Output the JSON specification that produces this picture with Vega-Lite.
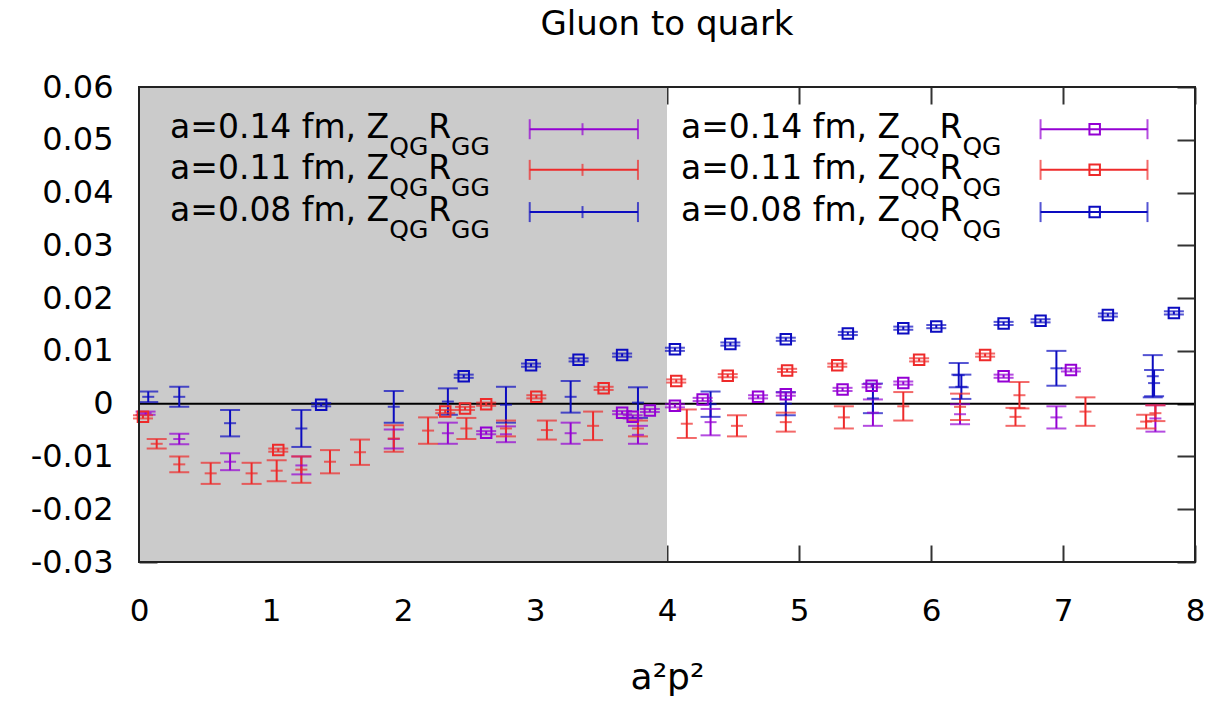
{
  "$schema": "https://vega.github.io/schema/vega-lite/v6.json",
  "width": 1056,
  "height": 475,
  "autosize": {"type": "none"},
  "padding": {"left": 139, "top": 87, "right": 20, "bottom": 141},
  "background": "white",
  "title": {"text": "Gluon to quark", "fontSize": 34, "fontWeight": "normal", "color": "#000", "baseline": "alphabetic", "offset": 2, "anchor": "middle"},
  "config": {"font": "DejaVu Sans", "view": {"stroke": null}},
  "datasets": {
    "pts": [
      {"s":"GG","a":"0.14","x":0.05,"y":-0.0018,"lo":-0.0021,"hi":-0.0015},
      {"s":"GG","a":"0.14","x":0.305,"y":-0.0067,"lo":-0.0077,"hi":-0.0057},
      {"s":"GG","a":"0.14","x":0.69,"y":-0.011,"lo":-0.0126,"hi":-0.0094},
      {"s":"GG","a":"0.14","x":1.23,"y":-0.0117,"lo":-0.0134,"hi":-0.01},
      {"s":"GG","a":"0.14","x":1.93,"y":-0.0067,"lo":-0.0085,"hi":-0.0049},
      {"s":"GG","a":"0.14","x":2.34,"y":-0.0056,"lo":-0.0076,"hi":-0.0036},
      {"s":"GG","a":"0.14","x":2.78,"y":-0.0058,"lo":-0.0073,"hi":-0.0043},
      {"s":"GG","a":"0.14","x":3.27,"y":-0.0056,"lo":-0.0076,"hi":-0.0036},
      {"s":"GG","a":"0.14","x":3.78,"y":-0.0059,"lo":-0.0076,"hi":-0.0042},
      {"s":"GG","a":"0.14","x":4.33,"y":-0.0035,"lo":-0.006,"hi":-0.001},
      {"s":"GG","a":"0.14","x":5.56,"y":-0.0017,"lo":-0.0042,"hi":0.0008},
      {"s":"GG","a":"0.14","x":6.22,"y":-0.002,"lo":-0.0039,"hi":-0.0001},
      {"s":"GG","a":"0.14","x":6.95,"y":-0.0026,"lo":-0.0047,"hi":-0.0005},
      {"s":"GG","a":"0.14","x":7.7,"y":-0.0028,"lo":-0.0053,"hi":-0.0003},
      {"s":"GG","a":"0.11","x":0.134,"y":-0.0076,"lo":-0.0085,"hi":-0.0067},
      {"s":"GG","a":"0.11","x":0.305,"y":-0.0115,"lo":-0.013,"hi":-0.01},
      {"s":"GG","a":"0.11","x":0.543,"y":-0.0132,"lo":-0.0152,"hi":-0.0112},
      {"s":"GG","a":"0.11","x":0.853,"y":-0.0132,"lo":-0.0152,"hi":-0.0112},
      {"s":"GG","a":"0.11","x":1.043,"y":-0.0127,"lo":-0.0147,"hi":-0.0107},
      {"s":"GG","a":"0.11","x":1.23,"y":-0.0125,"lo":-0.015,"hi":-0.01},
      {"s":"GG","a":"0.11","x":1.447,"y":-0.011,"lo":-0.0132,"hi":-0.0088},
      {"s":"GG","a":"0.11","x":1.674,"y":-0.0092,"lo":-0.0116,"hi":-0.0068},
      {"s":"GG","a":"0.11","x":1.93,"y":-0.0066,"lo":-0.0091,"hi":-0.0041},
      {"s":"GG","a":"0.11","x":2.19,"y":-0.0051,"lo":-0.0076,"hi":-0.0026},
      {"s":"GG","a":"0.11","x":2.48,"y":-0.0047,"lo":-0.0067,"hi":-0.0027},
      {"s":"GG","a":"0.11","x":2.78,"y":-0.0047,"lo":-0.0062,"hi":-0.0032},
      {"s":"GG","a":"0.11","x":3.09,"y":-0.005,"lo":-0.0068,"hi":-0.0032},
      {"s":"GG","a":"0.11","x":3.44,"y":-0.0042,"lo":-0.0069,"hi":-0.0015},
      {"s":"GG","a":"0.11","x":3.78,"y":-0.0047,"lo":-0.0062,"hi":-0.0032},
      {"s":"GG","a":"0.11","x":4.15,"y":-0.0038,"lo":-0.0065,"hi":-0.0011},
      {"s":"GG","a":"0.11","x":4.53,"y":-0.0042,"lo":-0.0062,"hi":-0.0022},
      {"s":"GG","a":"0.11","x":4.9,"y":-0.0035,"lo":-0.0053,"hi":-0.0017},
      {"s":"GG","a":"0.11","x":5.34,"y":-0.0026,"lo":-0.0047,"hi":-0.0005},
      {"s":"GG","a":"0.11","x":5.79,"y":-0.0005,"lo":-0.0032,"hi":0.0022},
      {"s":"GG","a":"0.11","x":6.22,"y":-0.0006,"lo":-0.0031,"hi":0.0019},
      {"s":"GG","a":"0.11","x":6.67,"y":0.0016,"lo":-0.0009,"hi":0.0041},
      {"s":"GG","a":"0.11","x":6.64,"y":-0.0025,"lo":-0.0042,"hi":-0.0008},
      {"s":"GG","a":"0.11","x":7.17,"y":-0.0015,"lo":-0.0042,"hi":0.0012},
      {"s":"GG","a":"0.11","x":7.63,"y":-0.0034,"lo":-0.0047,"hi":-0.0021},
      {"s":"GG","a":"0.11","x":7.7,"y":-0.0018,"lo":-0.0033,"hi":-0.0003},
      {"s":"GG","a":"0.08","x":0.07,"y":0.0013,"lo":0.0003,"hi":0.0023},
      {"s":"GG","a":"0.08","x":0.305,"y":0.0013,"lo":-0.0006,"hi":0.0032},
      {"s":"GG","a":"0.08","x":0.69,"y":-0.0037,"lo":-0.0062,"hi":-0.0012},
      {"s":"GG","a":"0.08","x":1.23,"y":-0.0047,"lo":-0.0082,"hi":-0.0012},
      {"s":"GG","a":"0.08","x":1.93,"y":-0.0006,"lo":-0.0036,"hi":0.0024},
      {"s":"GG","a":"0.08","x":2.34,"y":0.0004,"lo":-0.0021,"hi":0.0029},
      {"s":"GG","a":"0.08","x":2.78,"y":-0.0002,"lo":-0.0036,"hi":0.0032},
      {"s":"GG","a":"0.08","x":3.27,"y":0.0013,"lo":-0.0017,"hi":0.0043},
      {"s":"GG","a":"0.08","x":3.78,"y":0.0002,"lo":-0.0027,"hi":0.0031},
      {"s":"GG","a":"0.08","x":4.33,"y":-0.0001,"lo":-0.0025,"hi":0.0023},
      {"s":"GG","a":"0.08","x":4.9,"y":0.0,"lo":-0.0022,"hi":0.0022},
      {"s":"GG","a":"0.08","x":5.56,"y":0.001,"lo":-0.0018,"hi":0.0038},
      {"s":"GG","a":"0.08","x":6.21,"y":0.0054,"lo":0.0031,"hi":0.0077},
      {"s":"GG","a":"0.08","x":6.23,"y":0.0032,"lo":0.0009,"hi":0.0055},
      {"s":"GG","a":"0.08","x":6.95,"y":0.0067,"lo":0.0034,"hi":0.01},
      {"s":"GG","a":"0.08","x":7.68,"y":0.0052,"lo":0.0012,"hi":0.0092},
      {"s":"GG","a":"0.08","x":7.69,"y":0.0039,"lo":0.0014,"hi":0.0064},
      {"s":"QG","a":"0.14","x":2.63,"y":-0.0055,"lo":-0.0058,"hi":-0.0052},
      {"s":"QG","a":"0.14","x":3.66,"y":-0.0017,"lo":-0.002,"hi":-0.0014},
      {"s":"QG","a":"0.14","x":3.74,"y":-0.0025,"lo":-0.0028,"hi":-0.0022},
      {"s":"QG","a":"0.14","x":3.87,"y":-0.0013,"lo":-0.0016,"hi":-0.001},
      {"s":"QG","a":"0.14","x":4.06,"y":-0.0004,"lo":-0.0007,"hi":-0.0001},
      {"s":"QG","a":"0.14","x":4.27,"y":0.0008,"lo":0.0005,"hi":0.0011},
      {"s":"QG","a":"0.14","x":4.69,"y":0.0013,"lo":0.001,"hi":0.0016},
      {"s":"QG","a":"0.14","x":4.9,"y":0.0018,"lo":0.0015,"hi":0.0021},
      {"s":"QG","a":"0.14","x":5.33,"y":0.0027,"lo":0.0024,"hi":0.003},
      {"s":"QG","a":"0.14","x":5.55,"y":0.0034,"lo":0.0031,"hi":0.0037},
      {"s":"QG","a":"0.14","x":5.79,"y":0.0039,"lo":0.0036,"hi":0.0042},
      {"s":"QG","a":"0.14","x":6.55,"y":0.0052,"lo":0.0049,"hi":0.0055},
      {"s":"QG","a":"0.14","x":7.06,"y":0.0064,"lo":0.0061,"hi":0.0067},
      {"s":"QG","a":"0.11","x":0.03,"y":-0.0025,"lo":-0.0028,"hi":-0.0022},
      {"s":"QG","a":"0.11","x":1.055,"y":-0.0088,"lo":-0.0091,"hi":-0.0085},
      {"s":"QG","a":"0.11","x":2.32,"y":-0.0015,"lo":-0.0018,"hi":-0.0012},
      {"s":"QG","a":"0.11","x":2.47,"y":-0.0009,"lo":-0.0012,"hi":-0.0006},
      {"s":"QG","a":"0.11","x":2.63,"y":-0.0001,"lo":-0.0004,"hi":0.0002},
      {"s":"QG","a":"0.11","x":3.01,"y":0.0013,"lo":0.001,"hi":0.0016},
      {"s":"QG","a":"0.11","x":3.52,"y":0.0029,"lo":0.0026,"hi":0.0032},
      {"s":"QG","a":"0.11","x":4.07,"y":0.0043,"lo":0.004,"hi":0.0046},
      {"s":"QG","a":"0.11","x":4.46,"y":0.0053,"lo":0.005,"hi":0.0056},
      {"s":"QG","a":"0.11","x":4.91,"y":0.0063,"lo":0.006,"hi":0.0066},
      {"s":"QG","a":"0.11","x":5.29,"y":0.0073,"lo":0.007,"hi":0.0076},
      {"s":"QG","a":"0.11","x":5.91,"y":0.0083,"lo":0.008,"hi":0.0086},
      {"s":"QG","a":"0.11","x":6.41,"y":0.0092,"lo":0.0089,"hi":0.0095},
      {"s":"QG","a":"0.08","x":1.38,"y":-0.0002,"lo":-0.0005,"hi":0.0001},
      {"s":"QG","a":"0.08","x":2.46,"y":0.0052,"lo":0.0049,"hi":0.0055},
      {"s":"QG","a":"0.08","x":2.97,"y":0.0073,"lo":0.007,"hi":0.0076},
      {"s":"QG","a":"0.08","x":3.33,"y":0.0083,"lo":0.008,"hi":0.0086},
      {"s":"QG","a":"0.08","x":3.66,"y":0.0092,"lo":0.0089,"hi":0.0095},
      {"s":"QG","a":"0.08","x":4.06,"y":0.0103,"lo":0.01,"hi":0.0106},
      {"s":"QG","a":"0.08","x":4.48,"y":0.0113,"lo":0.011,"hi":0.0116},
      {"s":"QG","a":"0.08","x":4.9,"y":0.0122,"lo":0.0119,"hi":0.0125},
      {"s":"QG","a":"0.08","x":5.37,"y":0.0133,"lo":0.013,"hi":0.0136},
      {"s":"QG","a":"0.08","x":5.79,"y":0.0143,"lo":0.014,"hi":0.0146},
      {"s":"QG","a":"0.08","x":6.04,"y":0.0146,"lo":0.0143,"hi":0.0149},
      {"s":"QG","a":"0.08","x":6.55,"y":0.0152,"lo":0.0149,"hi":0.0155},
      {"s":"QG","a":"0.08","x":6.83,"y":0.0157,"lo":0.0154,"hi":0.016},
      {"s":"QG","a":"0.08","x":7.34,"y":0.0168,"lo":0.0165,"hi":0.0171},
      {"s":"QG","a":"0.08","x":7.84,"y":0.0172,"lo":0.0169,"hi":0.0175}
    ]
  },
  "layer": [
    {
      "layer": [
        {
          "data": {"values": [{}]},
          "mark": {"type": "rect", "color": "#cbcbcb"},
          "encoding": {
            "x": {"datum": 0, "type": "quantitative", "scale": {"domain": [0, 8], "nice": false, "zero": false},
              "axis": {"orient": "bottom", "values": [0,1,2,3,4,5,6,7,8], "format": "d", "title": "a²p²", "domain": false, "grid": false,
                "tickSize": -17, "tickWidth": 2, "tickColor": "#333", "labelFontSize": 31, "labelColor": "#000", "labelPadding": 51,
                "labelFlush": false, "labelOverlap": false, "titleFontSize": 36, "titleFontWeight": "normal", "titleColor": "#000", "titlePadding": 34}},
            "x2": {"datum": 4},
            "y": {"datum": -0.03, "type": "quantitative", "scale": {"domain": [-0.03, 0.06], "nice": false, "zero": false},
              "axis": {"orient": "left", "values": [-0.03,-0.02,-0.01,0,0.01,0.02,0.03,0.04,0.05,0.06],
                "labelExpr": "datum.value === 0 ? '0' : replace(format(datum.value, '.2f'), '\u2212', '-')",
                "title": null, "domain": false, "grid": false, "tickSize": -18, "tickWidth": 2, "tickColor": "#333",
                "labelFontSize": 32, "labelColor": "#000", "labelPadding": 44, "labelFlush": false, "labelOverlap": false}},
            "y2": {"datum": 0.06}
          }
        },
        {
          "data": {"values": [{}]},
          "mark": {"type": "rule", "color": "#000", "strokeWidth": 2},
          "encoding": {"y": {"datum": 0}}
        },
        {
          "data": {"name": "pts"},
          "mark": {"type": "rule", "strokeWidth": 2},
          "encoding": {
            "x": {"field": "x", "type": "quantitative"},
            "y": {"field": "lo", "type": "quantitative"},
            "y2": {"field": "hi"},
            "color": {"field": "a", "type": "nominal", "scale": {"domain": ["0.14","0.11","0.08"], "range": ["#9400d3","#ee2a2a","#0c0cc0"]}, "legend": null}
          }
        },
        {
          "data": {"name": "pts"},
          "mark": {"type": "tick", "orient": "horizontal", "size": 20, "thickness": 2},
          "encoding": {
            "x": {"field": "x", "type": "quantitative"},
            "y": {"field": "lo", "type": "quantitative"},
            "color": {"field": "a", "type": "nominal", "legend": null}
          }
        },
        {
          "data": {"name": "pts"},
          "mark": {"type": "tick", "orient": "horizontal", "size": 20, "thickness": 2},
          "encoding": {
            "x": {"field": "x", "type": "quantitative"},
            "y": {"field": "hi", "type": "quantitative"},
            "color": {"field": "a", "type": "nominal", "legend": null}
          }
        },
        {
          "data": {"name": "pts"},
          "transform": [{"filter": "datum.s === 'GG'"}],
          "mark": {"type": "tick", "orient": "horizontal", "size": 12, "thickness": 2},
          "encoding": {
            "x": {"field": "x", "type": "quantitative"},
            "y": {"field": "y", "type": "quantitative"},
            "color": {"field": "a", "type": "nominal", "legend": null}
          }
        },
        {
          "data": {"name": "pts"},
          "transform": [{"filter": "datum.s === 'QG'"}],
          "mark": {"type": "point", "shape": "square", "filled": false, "size": 110, "strokeWidth": 2, "opacity": 1},
          "encoding": {
            "x": {"field": "x", "type": "quantitative"},
            "y": {"field": "y", "type": "quantitative"},
            "color": {"field": "a", "type": "nominal", "legend": null}
          }
        },
        {
          "data": {"values": [{}]},
          "encoding": {"x": {"datum": 0.235}, "y": {"datum": 0.052}},
          "layer": [
            {"mark": {"type": "text", "text": "a=0.14 fm, Z", "align": "left", "baseline": "alphabetic", "dy": 9, "fontSize": 33, "color": "#000"}},
            {"mark": {"type": "text", "text": "QG", "align": "left", "baseline": "alphabetic", "dx": 219.2, "dy": 26, "fontSize": 25, "color": "#000"}},
            {"mark": {"type": "text", "text": "R", "align": "left", "baseline": "alphabetic", "dx": 258.2, "dy": 9, "fontSize": 33, "color": "#000"}},
            {"mark": {"type": "text", "text": "GG", "align": "left", "baseline": "alphabetic", "dx": 281.1, "dy": 26, "fontSize": 25, "color": "#000"}},
            {"mark": {"type": "rule", "color": "#9400d3", "strokeWidth": 2}, "encoding": {"x": {"datum": 2.96}, "x2": {"datum": 3.78}}},
            {"mark": {"type": "tick", "orient": "vertical", "size": 20, "thickness": 2, "color": "#9400d3"}, "encoding": {"x": {"datum": 2.96}}},
            {"mark": {"type": "tick", "orient": "vertical", "size": 20, "thickness": 2, "color": "#9400d3"}, "encoding": {"x": {"datum": 3.78}}},
            {"mark": {"type": "tick", "orient": "vertical", "size": 12, "thickness": 2, "color": "#9400d3"}, "encoding": {"x": {"datum": 3.36}}}
          ]
        },
        {
          "data": {"values": [{}]},
          "encoding": {"x": {"datum": 0.235}, "y": {"datum": 0.0443}},
          "layer": [
            {"mark": {"type": "text", "text": "a=0.11 fm, Z", "align": "left", "baseline": "alphabetic", "dy": 9, "fontSize": 33, "color": "#000"}},
            {"mark": {"type": "text", "text": "QG", "align": "left", "baseline": "alphabetic", "dx": 219.2, "dy": 26, "fontSize": 25, "color": "#000"}},
            {"mark": {"type": "text", "text": "R", "align": "left", "baseline": "alphabetic", "dx": 258.2, "dy": 9, "fontSize": 33, "color": "#000"}},
            {"mark": {"type": "text", "text": "GG", "align": "left", "baseline": "alphabetic", "dx": 281.1, "dy": 26, "fontSize": 25, "color": "#000"}},
            {"mark": {"type": "rule", "color": "#ee2a2a", "strokeWidth": 2}, "encoding": {"x": {"datum": 2.96}, "x2": {"datum": 3.78}}},
            {"mark": {"type": "tick", "orient": "vertical", "size": 20, "thickness": 2, "color": "#ee2a2a"}, "encoding": {"x": {"datum": 2.96}}},
            {"mark": {"type": "tick", "orient": "vertical", "size": 20, "thickness": 2, "color": "#ee2a2a"}, "encoding": {"x": {"datum": 3.78}}},
            {"mark": {"type": "tick", "orient": "vertical", "size": 12, "thickness": 2, "color": "#ee2a2a"}, "encoding": {"x": {"datum": 3.36}}}
          ]
        },
        {
          "data": {"values": [{}]},
          "encoding": {"x": {"datum": 0.235}, "y": {"datum": 0.0363}},
          "layer": [
            {"mark": {"type": "text", "text": "a=0.08 fm, Z", "align": "left", "baseline": "alphabetic", "dy": 9, "fontSize": 33, "color": "#000"}},
            {"mark": {"type": "text", "text": "QG", "align": "left", "baseline": "alphabetic", "dx": 219.2, "dy": 26, "fontSize": 25, "color": "#000"}},
            {"mark": {"type": "text", "text": "R", "align": "left", "baseline": "alphabetic", "dx": 258.2, "dy": 9, "fontSize": 33, "color": "#000"}},
            {"mark": {"type": "text", "text": "GG", "align": "left", "baseline": "alphabetic", "dx": 281.1, "dy": 26, "fontSize": 25, "color": "#000"}},
            {"mark": {"type": "rule", "color": "#0c0cc0", "strokeWidth": 2}, "encoding": {"x": {"datum": 2.96}, "x2": {"datum": 3.78}}},
            {"mark": {"type": "tick", "orient": "vertical", "size": 20, "thickness": 2, "color": "#0c0cc0"}, "encoding": {"x": {"datum": 2.96}}},
            {"mark": {"type": "tick", "orient": "vertical", "size": 20, "thickness": 2, "color": "#0c0cc0"}, "encoding": {"x": {"datum": 3.78}}},
            {"mark": {"type": "tick", "orient": "vertical", "size": 12, "thickness": 2, "color": "#0c0cc0"}, "encoding": {"x": {"datum": 3.36}}}
          ]
        },
        {
          "data": {"values": [{}]},
          "encoding": {"x": {"datum": 4.106}, "y": {"datum": 0.052}},
          "layer": [
            {"mark": {"type": "text", "text": "a=0.14 fm, Z", "align": "left", "baseline": "alphabetic", "dy": 9, "fontSize": 33, "color": "#000"}},
            {"mark": {"type": "text", "text": "QQ", "align": "left", "baseline": "alphabetic", "dx": 219.2, "dy": 26, "fontSize": 25, "color": "#000"}},
            {"mark": {"type": "text", "text": "R", "align": "left", "baseline": "alphabetic", "dx": 258.5, "dy": 9, "fontSize": 33, "color": "#000"}},
            {"mark": {"type": "text", "text": "QG", "align": "left", "baseline": "alphabetic", "dx": 281.4, "dy": 26, "fontSize": 25, "color": "#000"}},
            {"mark": {"type": "rule", "color": "#9400d3", "strokeWidth": 2}, "encoding": {"x": {"datum": 6.83}, "x2": {"datum": 7.64}}},
            {"mark": {"type": "tick", "orient": "vertical", "size": 20, "thickness": 2, "color": "#9400d3"}, "encoding": {"x": {"datum": 6.83}}},
            {"mark": {"type": "tick", "orient": "vertical", "size": 20, "thickness": 2, "color": "#9400d3"}, "encoding": {"x": {"datum": 7.64}}},
            {"mark": {"type": "point", "shape": "square", "filled": false, "size": 110, "strokeWidth": 2, "color": "#9400d3", "opacity": 1}, "encoding": {"x": {"datum": 7.24}}}
          ]
        },
        {
          "data": {"values": [{}]},
          "encoding": {"x": {"datum": 4.106}, "y": {"datum": 0.0443}},
          "layer": [
            {"mark": {"type": "text", "text": "a=0.11 fm, Z", "align": "left", "baseline": "alphabetic", "dy": 9, "fontSize": 33, "color": "#000"}},
            {"mark": {"type": "text", "text": "QQ", "align": "left", "baseline": "alphabetic", "dx": 219.2, "dy": 26, "fontSize": 25, "color": "#000"}},
            {"mark": {"type": "text", "text": "R", "align": "left", "baseline": "alphabetic", "dx": 258.5, "dy": 9, "fontSize": 33, "color": "#000"}},
            {"mark": {"type": "text", "text": "QG", "align": "left", "baseline": "alphabetic", "dx": 281.4, "dy": 26, "fontSize": 25, "color": "#000"}},
            {"mark": {"type": "rule", "color": "#ee2a2a", "strokeWidth": 2}, "encoding": {"x": {"datum": 6.83}, "x2": {"datum": 7.64}}},
            {"mark": {"type": "tick", "orient": "vertical", "size": 20, "thickness": 2, "color": "#ee2a2a"}, "encoding": {"x": {"datum": 6.83}}},
            {"mark": {"type": "tick", "orient": "vertical", "size": 20, "thickness": 2, "color": "#ee2a2a"}, "encoding": {"x": {"datum": 7.64}}},
            {"mark": {"type": "point", "shape": "square", "filled": false, "size": 110, "strokeWidth": 2, "color": "#ee2a2a", "opacity": 1}, "encoding": {"x": {"datum": 7.24}}}
          ]
        },
        {
          "data": {"values": [{}]},
          "encoding": {"x": {"datum": 4.106}, "y": {"datum": 0.0363}},
          "layer": [
            {"mark": {"type": "text", "text": "a=0.08 fm, Z", "align": "left", "baseline": "alphabetic", "dy": 9, "fontSize": 33, "color": "#000"}},
            {"mark": {"type": "text", "text": "QQ", "align": "left", "baseline": "alphabetic", "dx": 219.2, "dy": 26, "fontSize": 25, "color": "#000"}},
            {"mark": {"type": "text", "text": "R", "align": "left", "baseline": "alphabetic", "dx": 258.5, "dy": 9, "fontSize": 33, "color": "#000"}},
            {"mark": {"type": "text", "text": "QG", "align": "left", "baseline": "alphabetic", "dx": 281.4, "dy": 26, "fontSize": 25, "color": "#000"}},
            {"mark": {"type": "rule", "color": "#0c0cc0", "strokeWidth": 2}, "encoding": {"x": {"datum": 6.83}, "x2": {"datum": 7.64}}},
            {"mark": {"type": "tick", "orient": "vertical", "size": 20, "thickness": 2, "color": "#0c0cc0"}, "encoding": {"x": {"datum": 6.83}}},
            {"mark": {"type": "tick", "orient": "vertical", "size": 20, "thickness": 2, "color": "#0c0cc0"}, "encoding": {"x": {"datum": 7.64}}},
            {"mark": {"type": "point", "shape": "square", "filled": false, "size": 110, "strokeWidth": 2, "color": "#0c0cc0", "opacity": 1}, "encoding": {"x": {"datum": 7.24}}}
          ]
        },
        {
          "data": {"values": [{}]},
          "mark": {"type": "rect", "fill": null, "fillOpacity": 0, "stroke": "#222", "strokeWidth": 2},
          "encoding": {"x": {"datum": 0}, "x2": {"datum": 8}, "y": {"datum": -0.03}, "y2": {"datum": 0.06}}
        }
      ]
    },
    {
      "data": {"values": [{}]},
      "mark": {"type": "point", "opacity": 0},
      "encoding": {
        "x": {"datum": 0, "type": "quantitative",
          "axis": {"orient": "top", "values": [0,1,2,3,4,5,6,7,8], "labels": false, "title": null, "domain": false, "grid": false, "tickSize": -17, "tickWidth": 2, "tickColor": "#333"}},
        "y": {"datum": 0, "type": "quantitative",
          "axis": {"orient": "right", "values": [-0.03,-0.02,-0.01,0,0.01,0.02,0.03,0.04,0.05,0.06], "labels": false, "title": null, "domain": false, "grid": false, "tickSize": -18, "tickWidth": 2, "tickColor": "#333"}}
      }
    }
  ],
  "resolve": {"axis": {"x": "independent", "y": "independent"}}
}
